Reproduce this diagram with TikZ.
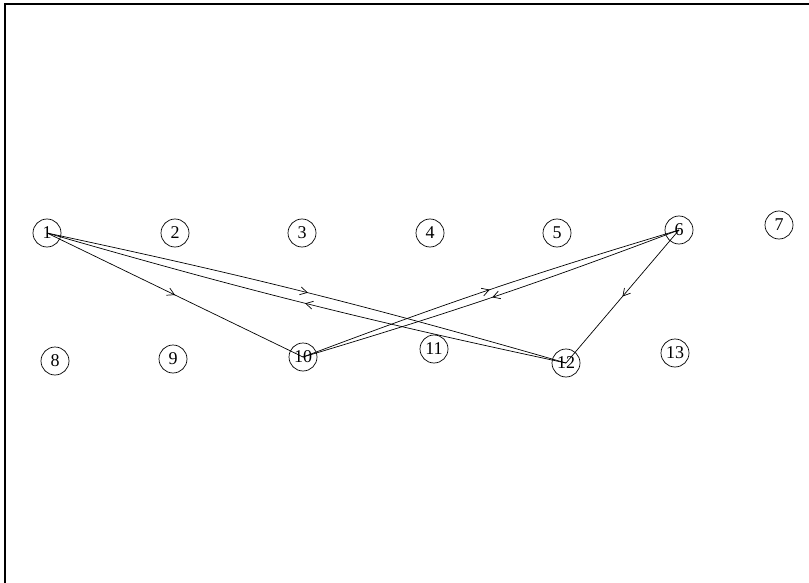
\documentclass[tikz,border=0pt]{standalone}
\usepackage{fontspec}
\setmainfont{Liberation Serif}
\usepackage{tikz}
\usetikzlibrary{arrows.meta, decorations.markings, positioning}

\tikzset{
    vertex/.style={draw, circle, line width=0.7pt, minimum size=28pt, inner sep=0pt, font=\fontsize{18}{18}\selectfont},
    midarrow/.style={line width=0.7pt, postaction={decorate}, decoration={markings, mark=at position 0.5 with {\arrow{Straight Barb[length=7pt,width=8pt]}}}}
}

\begin{document}
\begin{tikzpicture}[x=1pt, y=-1pt]
                        \useasboundingbox (0, 0) rectangle (809, 583);
                        \draw[line width=2pt] (5, 583) -- (5, 4.3) -- (809, 4.3);

                        \node[vertex] (1) at (47, 233) {1};
                        \node[vertex] (2) at (175, 233) {2};
                        \node[vertex] (3) at (302, 233) {3};
                        \node[vertex] (4) at (430, 233) {4};
                        \node[vertex] (5) at (557, 233) {5};
                        \node[vertex] (6) at (679, 230) {6};
                        \node[vertex] (7) at (779, 225) {7};
                        \node[vertex] (8) at (55, 361) {8};
                        \node[vertex] (9) at (173, 359) {9};
                        \node[vertex] (10) at (303, 357) {10};
                        \node[vertex] (11) at (434, 349) {11};
                        \node[vertex] (12) at (566, 363) {12};
                        \node[vertex] (13) at (675, 353) {13};

                        \draw
                        (1.center) edge[midarrow] (10.center)
                        (1.center) edge[midarrow, bend left=2] (12.center)
                        (12.center) edge[midarrow, bend left=2] (1.center)
                        (10.center) edge[midarrow, bend left=2] (6.center)
                        (6.center) edge[midarrow, bend left=2] (10.center)
                        (6.center) edge[midarrow] (12.center);
                    \end{tikzpicture}
\end{document}
